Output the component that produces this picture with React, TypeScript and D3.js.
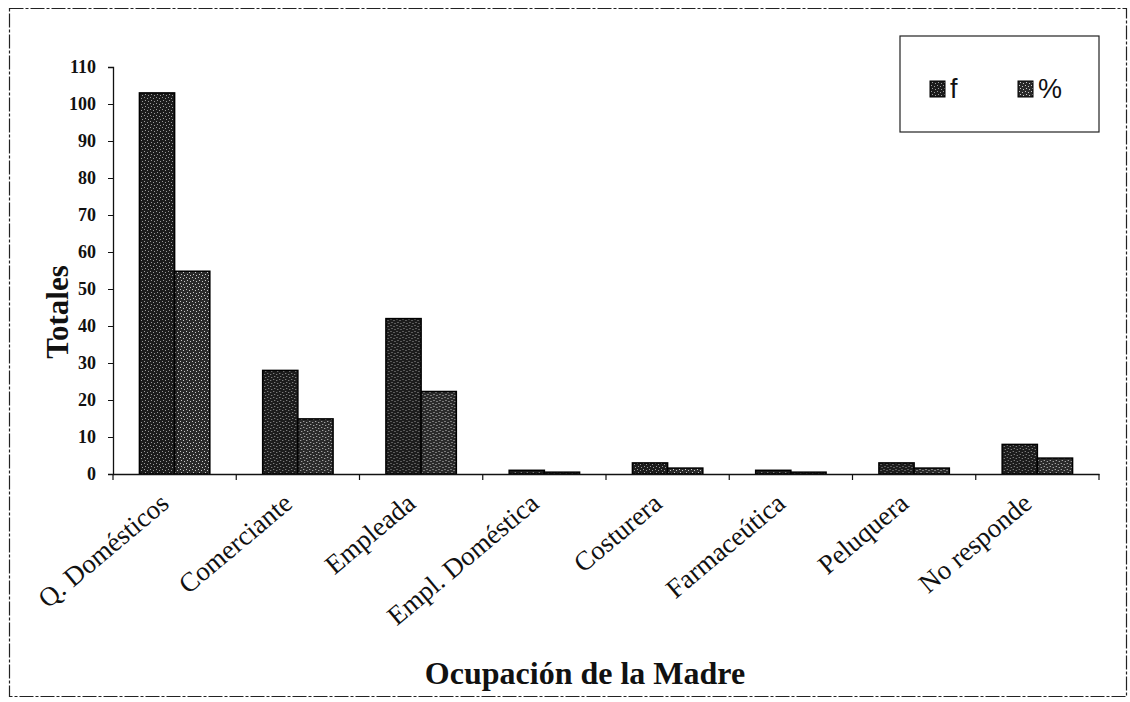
import { useRef, useEffect } from "react";
import * as d3 from "d3";

const categories = [
  "Q. Domésticos",
  "Comerciante",
  "Empleada",
  "Empl. Doméstica",
  "Costurera",
  "Farmaceútica",
  "Peluquera",
  "No responde",
];
const fValues = [103, 28, 42, 1, 3, 1, 3, 8];
const pctValues = [54.8, 14.9, 22.3, 0.5, 1.6, 0.5, 1.6, 4.3];
const yTicks = [0, 10, 20, 30, 40, 50, 60, 70, 80, 90, 100, 110];
const seriesKeys = ["f", "%"];

const serif = "'Liberation Serif', 'Times New Roman', serif";
const sans = "'Liberation Sans', Arial, sans-serif";

export default function App() {
  const svgRef = useRef<SVGSVGElement | null>(null);

  useEffect(() => {
    const svg = d3.select(svgRef.current);
    svg.selectAll("*").remove();

    const width = 1130;
    const height = 702;
    const margin = { top: 67, right: 31, bottom: 228, left: 113 };

    // speckled fills, like the scanned bars
    const defs = svg.append("defs");
    const makePattern = (id: string, bg: string, dot: string) => {
      const p = defs
        .append("pattern")
        .attr("id", id)
        .attr("patternUnits", "userSpaceOnUse")
        .attr("width", 6)
        .attr("height", 6);
      p.append("rect").attr("width", 6).attr("height", 6).attr("fill", bg);
      [
        [1, 1],
        [4, 2],
        [2, 4],
        [5, 5],
      ].forEach(([cx, cy]) =>
        p.append("rect").attr("x", cx).attr("y", cy).attr("width", 1).attr("height", 1).attr("fill", dot)
      );
    };
    makePattern("pat-f", "#1c1c1c", "#9a9a9a");
    makePattern("pat-p", "#2a2a2a", "#c8c8c8");
    const fills: Record<string, string> = { f: "url(#pat-f)", "%": "url(#pat-p)" };

    // outer frame
    svg
      .append("rect")
      .attr("x", 9.5)
      .attr("y", 8.5)
      .attr("width", 1117)
      .attr("height", 688)
      .attr("fill", "none")
      .attr("stroke", "#222")
      .attr("stroke-width", 1.2)
      .attr("stroke-dasharray", "14 2 3 2");

    const x = d3
      .scaleBand<string>()
      .domain(categories)
      .range([margin.left, width - margin.right]);

    const xSub = d3
      .scaleBand<string>()
      .domain(seriesKeys)
      .range([0, x.bandwidth()])
      .paddingInner(0)
      .paddingOuter(0.75);

    const y = d3
      .scaleLinear()
      .domain([0, 110])
      .range([height - margin.bottom, margin.top]);

    // bars
    const rows = categories.map((c, i) => ({ cat: c, f: fValues[i], "%": pctValues[i] }));
    const groups = svg
      .append("g")
      .selectAll("g")
      .data(rows)
      .join("g")
      .attr("transform", (d) => `translate(${x(d.cat)},0)`);

    groups
      .selectAll("rect")
      .data((d) => seriesKeys.map((k) => ({ key: k, value: (d as any)[k] as number })))
      .join("rect")
      .attr("x", (d) => xSub(d.key)!)
      .attr("y", (d) => y(d.value))
      .attr("width", xSub.bandwidth())
      .attr("height", (d) => y(0) - y(d.value))
      .attr("fill", (d) => fills[d.key])
      .attr("stroke", "#000")
      .attr("stroke-width", 1.5);

    // y axis
    const yAxis = svg
      .append("g")
      .attr("transform", `translate(${margin.left},0)`)
      .call(d3.axisLeft(y).tickValues(yTicks).tickSize(5).tickPadding(12));
    yAxis.select(".domain").attr("stroke", "#111").attr("stroke-width", 1.3);
    yAxis.selectAll(".tick line").attr("stroke", "#111");
    yAxis
      .selectAll(".tick text")
      .attr("font-family", serif)
      .attr("font-weight", "bold")
      .attr("font-size", 18)
      .attr("fill", "#111");

    // x axis
    const xAxis = svg
      .append("g")
      .attr("transform", `translate(0,${height - margin.bottom})`)
      .call(d3.axisBottom(x).tickSize(0).tickFormat(() => ""));
    xAxis.select(".domain").attr("stroke", "#111").attr("stroke-width", 1.3);

    // category boundary ticks
    const bounds = categories.map((c) => x(c)!).concat([width - margin.right]);
    svg
      .append("g")
      .selectAll("line")
      .data(bounds)
      .join("line")
      .attr("x1", (d) => d)
      .attr("x2", (d) => d)
      .attr("y1", y(0))
      .attr("y2", y(0) + 6)
      .attr("stroke", "#111")
      .attr("stroke-width", 1.2);

    // rotated category labels
    svg
      .append("g")
      .selectAll("text")
      .data(categories)
      .join("text")
      .attr(
        "transform",
        (d) => `translate(${x(d)! + x.bandwidth() / 2 - 4},${y(0) + 32}) rotate(-40)`
      )
      .attr("text-anchor", "end")
      .attr("font-family", serif)
      .attr("font-size", 27)
      .attr("fill", "#111")
      .text((d) => d);

    // axis titles
    svg
      .append("text")
      .attr("transform", `translate(68,312) rotate(-90)`)
      .attr("text-anchor", "middle")
      .attr("font-family", serif)
      .attr("font-weight", "bold")
      .attr("font-size", 31)
      .attr("fill", "#111")
      .text("Totales");

    svg
      .append("text")
      .attr("x", 585)
      .attr("y", 684)
      .attr("text-anchor", "middle")
      .attr("font-family", serif)
      .attr("font-weight", "bold")
      .attr("font-size", 32)
      .attr("fill", "#111")
      .text("Ocupación de la Madre");

    // legend
    const legend = svg.append("g").attr("transform", "translate(900,36)");
    legend
      .append("rect")
      .attr("width", 199)
      .attr("height", 96)
      .attr("fill", "#fff")
      .attr("stroke", "#222")
      .attr("stroke-width", 1.2);
    seriesKeys.forEach((k, i) => {
      const item = legend.append("g").attr("transform", `translate(${30 + i * 88},54)`);
      item
        .append("rect")
        .attr("y", -9)
        .attr("width", 15)
        .attr("height", 16)
        .attr("fill", fills[k])
        .attr("stroke", "#000");
      item
        .append("text")
        .attr("x", 20)
        .attr("y", 8)
        .attr("font-family", sans)
        .attr("font-size", 27)
        .attr("fill", "#111")
        .text(k);
    });
  }, []);

  return (
    <svg
      ref={svgRef}
      width={1130}
      height={702}
      style={{ position: "absolute", left: 0, top: 0, background: "#fff" }}
    />
  );
}
